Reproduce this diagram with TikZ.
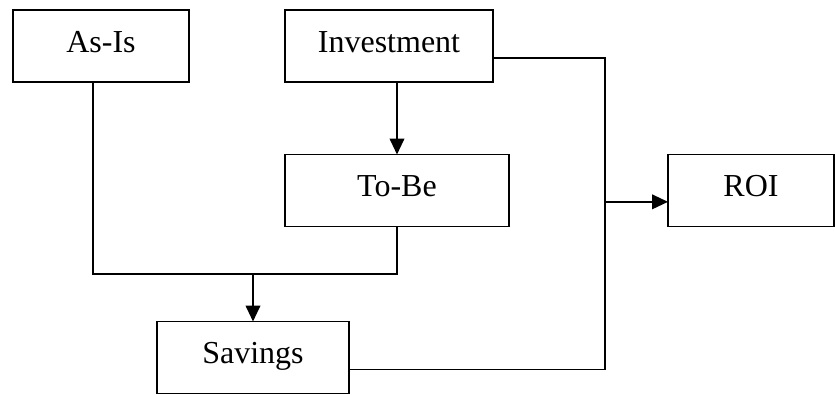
\documentclass[tikz,border=0pt]{standalone}
\usepackage{fontspec}
\setmainfont{Liberation Serif}
\usetikzlibrary{arrows.meta}

\begin{document}
\begin{tikzpicture}[x=0.75pt,y=-0.75pt,line width=1.4pt,
  box/.style={draw,rectangle,outer sep=0pt,inner ysep=0pt,
    text height=31.5pt,text depth=22.5pt,
    font=\fontsize{24}{28}\selectfont},
  arr/.style={-{Triangle[length=12pt,width=11pt]}}]
\useasboundingbox (0,0) rectangle (835,394);
% boxes
\node[box,minimum width=132pt] (asis) at (101,46) {As-Is};
\node[box,minimum width=156pt] (invest) at (389,46) {Investment};
\node[box,minimum width=168pt] (tobe) at (397,190.5) {To-Be};
\node[box,minimum width=124.5pt] (roi) at (751,190.5) {ROI};
\node[box,minimum width=144pt] (savings) at (253,357.5) {Savings};
% joints
\coordinate (mid) at (253,274);
\coordinate (bus) at (605,0);
\coordinate (invout) at ([yshift=-9pt]invest.east);
\coordinate (savout) at ([yshift=-9pt]savings.east);
\coordinate (roiin) at ([yshift=-8.5pt]roi.west);
% as-is and to-be into savings
\draw ([xshift=-6pt]asis.south) |- (tobe.south |- mid) -- (tobe.south);
\draw[arr] (mid) -- (savings.north);
% investment into to-be
\draw[arr] (invest.south -| tobe.north) -- (tobe.north);
% investment and savings into roi
\draw (invout) -| (bus |- savout) -- (savout);
\draw[arr] (bus |- roiin) -- (roiin);
\end{tikzpicture}
\end{document}
